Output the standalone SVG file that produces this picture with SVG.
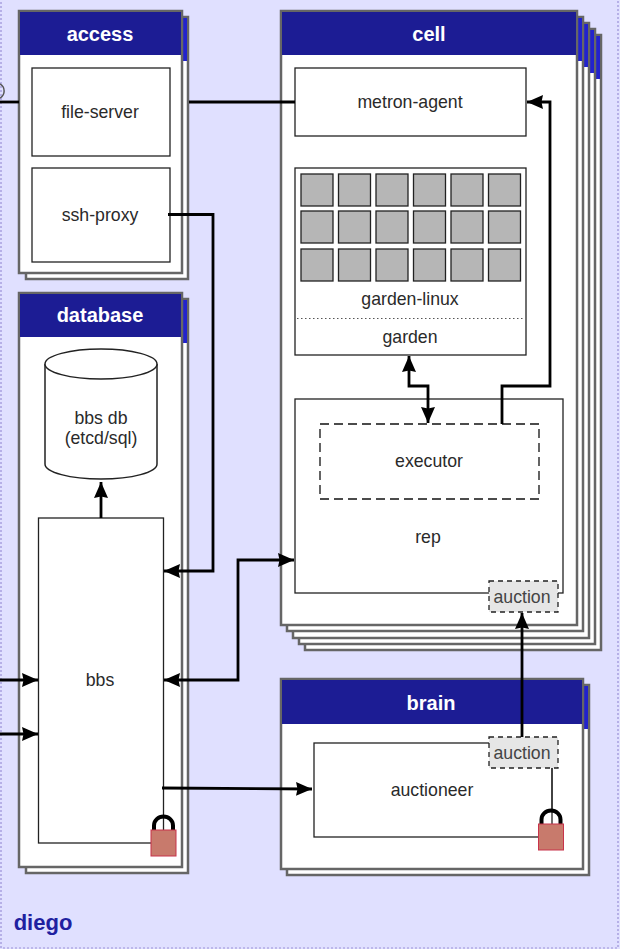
<svg xmlns="http://www.w3.org/2000/svg" width="620" height="949" viewBox="0 0 620 949">
<defs>
<marker id="arrow" markerUnits="userSpaceOnUse" markerWidth="18" markerHeight="18" refX="16" refY="9" orient="auto-start-reverse"><path d="M0 2 L16 9 L0 16 L1.500 9 Z" fill="#000"/></marker>
<g id="lock"><path d="M3 14 V9.500 A9.500 9 0 0 1 22 9.500 V14" fill="none" stroke="#000" stroke-width="4"/><rect x="0" y="14" width="25" height="26" fill="#c87a6c" stroke="#c8334a" stroke-width="1"/></g>
</defs>
<style>
text{font-family:"Liberation Sans",Arial,sans-serif;fill:#2a2a2a;font-size:17.700px;text-anchor:middle}
.sheet{fill:#fff;stroke:#666;stroke-width:2.500}
.headback{fill:#2222cc}
.head{fill:#1c1c94}
.title{fill:#fff;font-weight:700;font-size:20px}
.box{fill:#fff;stroke:#222;stroke-width:1.300}
.core{fill:#b6b6b6;stroke:#222;stroke-width:1.300}
.tag{fill:#e6e6e6;stroke:#222;stroke-width:1.300;stroke-dasharray:5 4}
.c{fill:none;stroke:#000;stroke-width:2.800}
.t{fill:none;stroke:#333;stroke-width:1.500}
</style>
<rect x="0" y="0" width="620" height="949" fill="#e0e0ff"/>
<rect x="1" y="-2" width="617" height="950" fill="none" stroke="#9a90d8" stroke-width="1.200" stroke-dasharray="2 2"/>
<path d="M0 84 A8 8 0 0 1 0 98" fill="none" stroke="#555" stroke-width="1.500"/>

<g id="access">
<rect class="sheet" x="26" y="17" width="162" height="262"/><rect class="headback" x="183" y="18" width="4" height="43"/>
<rect class="sheet" x="19" y="11" width="163" height="262"/><rect class="head" x="20" y="12" width="161" height="43"/>
<text class="title" x="100" y="41">access</text>
<rect class="box" x="32" y="68" width="138" height="88"/><text x="100" y="118">file-server</text>
<rect class="box" x="32" y="168" width="138" height="94"/><text x="100" y="221">ssh-proxy</text>
</g>

<g id="database">
<rect class="sheet" x="26" y="299" width="162" height="574"/><rect class="headback" x="183" y="300" width="4" height="43"/>
<rect class="sheet" x="19" y="293" width="163" height="574"/><rect class="head" x="20" y="294" width="161" height="43"/>
<text class="title" x="100" y="322">database</text>
<path d="M45 364 V464 A56 15 0 0 0 157 464 V364" fill="#fff" stroke="#222" stroke-width="1.500"/>
<ellipse cx="101" cy="364" rx="56" ry="15" fill="#fff" stroke="#222" stroke-width="1.500"/>
<text x="101" y="424">bbs db</text><text x="101" y="444">(etcd/sql)</text>
<rect class="box" x="38.500" y="518" width="125" height="325"/><text x="100" y="686">bbs</text>
</g>

<g id="cell">
<rect class="sheet" x="305" y="35" width="296" height="615"/><rect class="headback" x="596" y="36" width="4" height="43"/>
<rect class="sheet" x="299" y="29" width="296" height="615"/><rect class="headback" x="590" y="30" width="4" height="43"/>
<rect class="sheet" x="293" y="23" width="296" height="615"/><rect class="headback" x="584" y="24" width="4" height="43"/>
<rect class="sheet" x="287" y="17" width="296" height="614"/><rect class="headback" x="578" y="18" width="4" height="43"/>
<rect class="sheet" x="281" y="11" width="296" height="614"/><rect class="head" x="282" y="12" width="294" height="43"/>
<text class="title" x="429" y="41">cell</text>
<rect class="box" x="295" y="68" width="231" height="68"/><text x="410" y="108">metron-agent</text>
<rect class="box" x="295" y="168" width="231" height="187"/>
<g class="cores">
<rect class="core" x="301" y="174" width="32" height="32"/><rect class="core" x="338.500" y="174" width="32" height="32"/><rect class="core" x="376" y="174" width="32" height="32"/><rect class="core" x="413.500" y="174" width="32" height="32"/><rect class="core" x="451" y="174" width="32" height="32"/><rect class="core" x="488.500" y="174" width="32" height="32"/>
<rect class="core" x="301" y="211" width="32" height="32"/><rect class="core" x="338.500" y="211" width="32" height="32"/><rect class="core" x="376" y="211" width="32" height="32"/><rect class="core" x="413.500" y="211" width="32" height="32"/><rect class="core" x="451" y="211" width="32" height="32"/><rect class="core" x="488.500" y="211" width="32" height="32"/>
<rect class="core" x="301" y="249" width="32" height="32"/><rect class="core" x="338.500" y="249" width="32" height="32"/><rect class="core" x="376" y="249" width="32" height="32"/><rect class="core" x="413.500" y="249" width="32" height="32"/><rect class="core" x="451" y="249" width="32" height="32"/><rect class="core" x="488.500" y="249" width="32" height="32"/>
</g>
<text x="410" y="305">garden-linux</text>
<line x1="297" y1="318.500" x2="525" y2="318.500" stroke="#555" stroke-dasharray="1.500 2.500"/>
<text x="410" y="343">garden</text>
<rect class="box" x="295" y="399" width="268" height="194"/><text x="428" y="543">rep</text>
<rect x="320" y="424" width="219" height="75" fill="#fff" stroke="#111" stroke-width="1.300" stroke-dasharray="9 5"/><text x="429" y="467">executor</text>
<rect class="tag" x="489" y="581" width="69" height="31"/><text x="522" y="603" style="fill:#444">auction</text>
</g>

<g id="brain">
<rect class="sheet" x="287" y="685" width="302" height="190"/><rect class="headback" x="584" y="686" width="4" height="43"/>
<rect class="sheet" x="281" y="679" width="302" height="190"/><rect class="head" x="282" y="680" width="300" height="44"/>
<text class="title" x="431" y="710">brain</text>
<rect class="box" x="314" y="743" width="238" height="94"/><text x="432" y="796">auctioneer</text>
<rect class="tag" x="489" y="737" width="69" height="31"/><text x="522" y="759" style="fill:#444">auction</text>
</g>

<g id="connectors">
<line class="c" x1="189" y1="102" x2="295" y2="102"/>
<line class="c" x1="0" y1="102" x2="19" y2="102"/>
<path class="c" d="M168 214.500 H213 V571 H164" marker-end="url(#arrow)"/>
<path class="c" d="M101 518 V482" marker-end="url(#arrow)"/>
<path class="c" d="M164 680 H238 V560 H294" marker-start="url(#arrow)" marker-end="url(#arrow)"/>
<path class="c" d="M0 680 H38" marker-end="url(#arrow)"/>
<path class="c" d="M0 734 H38" marker-end="url(#arrow)"/>
<path class="c" d="M409 356 V386 H428 V423" marker-start="url(#arrow)" marker-end="url(#arrow)"/>
<path class="c" d="M502 424 V386 H550 V102 H527" marker-end="url(#arrow)"/>
<path class="c" d="M522 737 V613" marker-end="url(#arrow)"/>
<path class="c" d="M162 788 L312 789" marker-end="url(#arrow)"/>
<line class="t" x1="552" y1="768" x2="552" y2="811"/>
</g>
<g id="bbs-lock"><use href="#lock" x="151" y="816"/></g>
<g id="auctioneer-lock"><use href="#lock" x="538.500" y="810"/></g>
<text x="43" y="930" style="fill:#2020a0;font-weight:700;font-size:22px">diego</text>
</svg>
